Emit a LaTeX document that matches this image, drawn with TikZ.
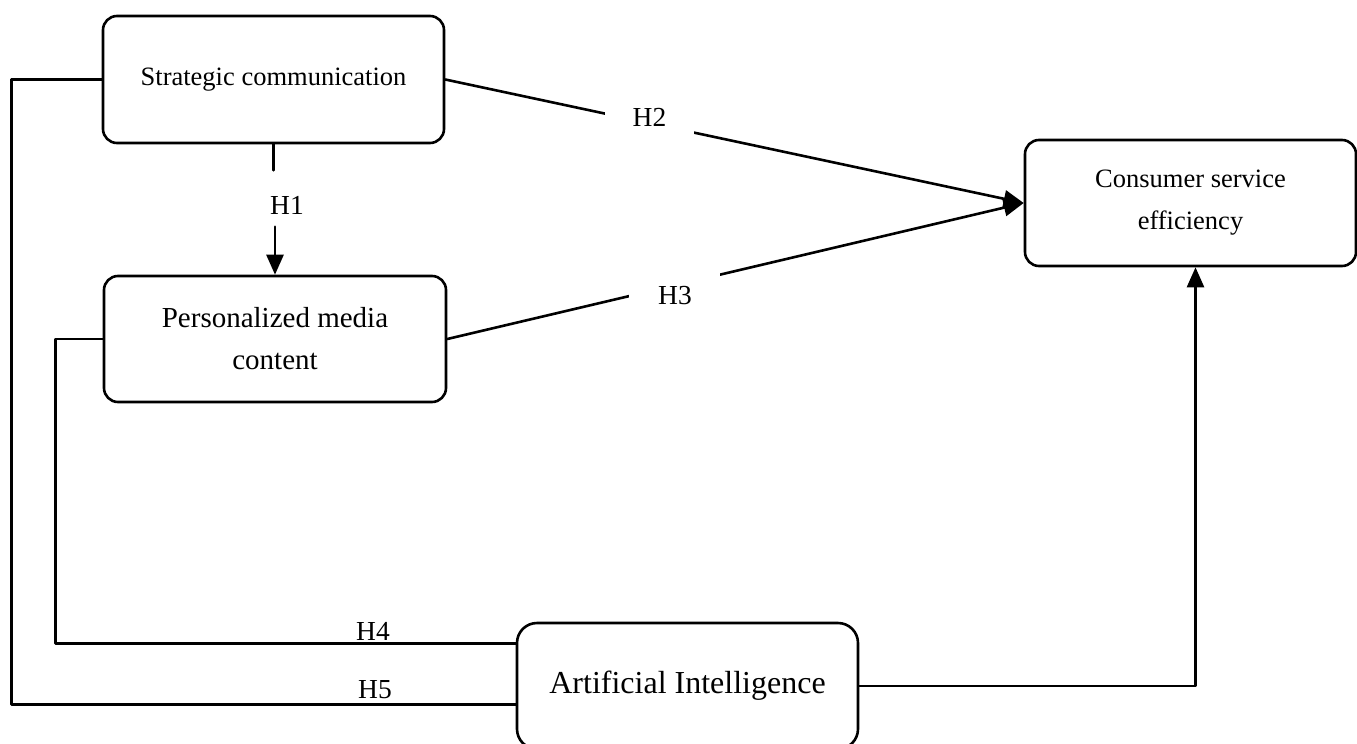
\documentclass[tikz,border=0pt]{standalone}
\usepackage{fontspec}
\setmainfont{Liberation Serif}
\usetikzlibrary{arrows.meta,calc}

\tikzset{
  box/.style={draw,line width=2.6pt,rounded corners=14pt,align=center,inner sep=0pt},
  hyp/.style={fill=white,inner sep=0pt,font=\fontsize{27.5}{32}\selectfont},
  hyptext/.style={inner sep=1pt,font=\fontsize{27.5}{32}\selectfont}
}

\begin{document}
\begin{tikzpicture}[line cap=round,line join=round,>={Triangle[length=20pt,width=17pt]},x=1pt,y=-1pt,line width=2.6pt]
        \useasboundingbox (0,0) rectangle (1357,744);
        \node[box,minimum width=341pt,minimum height=127pt,font=\fontsize{26.5}{42}\selectfont] (sc) at (273.5,79.5) {Strategic communication};
        \node[box,minimum width=342pt,minimum height=126pt,font=\fontsize{29}{42}\selectfont] (pm) at (275,339) {Personalized media\\content};
        \node[box,minimum width=331pt,minimum height=126pt,font=\fontsize{26.5}{42}\selectfont] (ce) at (1190.5,203) {Consumer service\\efficiency};
        \node[box,rounded corners=20pt,minimum width=341pt,minimum height=126pt,font=\fontsize{32}{38}\selectfont] (ai) at (687.5,686) {Artificial Intelligence};
        \node[hyptext] (h1) at (287,205) {H1};
        \draw (sc.south) -- ($(sc.south)+(0,26)$);
        \draw [->] ($(pm.north)+(0,-48)$) -- (pm.north);
        \draw [->] (sc.east) -- node[hyp,pos=0.353,minimum width=89pt,minimum height=40pt,yshift=6pt] (h2) {H2} (ce.west);
        \draw [->] (pm.east) -- node[hyp,pos=0.395,minimum width=91pt,minimum height=50pt,yshift=-10pt] (h3) {H3} (ce.west);
        \draw (pm.west) -- ++(-47,0) |- ($(ai.north west)+(0,22)$);
        \draw (sc.west) -- ++(-90,0) |- ($(ai.south west)+(0,-46)$);
        \node[hyptext,anchor=south] (h4) at (373,643) {H4};
        \node[hyptext,anchor=south] (h5) at (375,701) {H5};
        \draw [->] (ai.east) -| ($(ce.south)+(5,0)$);
    \end{tikzpicture}
\end{document}
